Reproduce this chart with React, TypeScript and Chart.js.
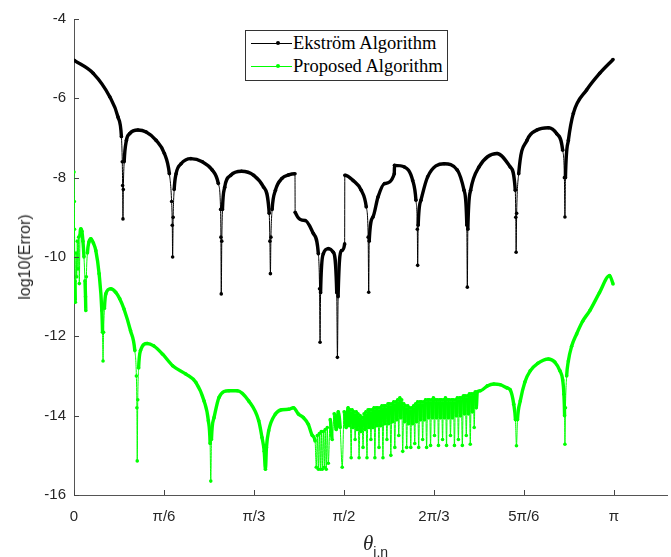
import React, { useEffect, useRef } from 'react';
import { Chart, registerables } from 'chart.js';

Chart.register(...registerables);

// ---------- data ----------
const xTickLabels = ['0', 'π/6', 'π/3', 'π/2', '2π/3', '5π/6', 'π'];
const xTickSixths = [0, 1, 2, 3, 4, 5, 6]; // tick positions in units of π/6
const yTickValues = [-16, -14, -12, -10, -8, -6, -4];

const seriesNames = ['Ekström Algorithm', 'Proposed Algorithm'];

const ekstromTheta = [
  0.000, 0.112, 0.208, 0.256, 0.276, 0.281, 0.283, 0.285, 0.287, 0.292,
  0.305, 0.324, 0.372, 0.420, 0.478, 0.526, 0.555, 0.568, 0.572, 0.574,
  0.577, 0.583, 0.594, 0.623, 0.680, 0.747, 0.805, 0.840, 0.853, 0.855,
  0.857, 0.860, 0.864, 0.877, 0.912, 0.975, 1.046, 1.104, 1.136, 1.140,
  1.143, 1.146, 1.153, 1.172, 1.210, 1.249, 1.286, 1.287, 1.345, 1.393,
  1.422, 1.429, 1.432, 1.435, 1.451, 1.480, 1.509, 1.529, 1.533, 1.537,
  1.557, 1.575, 1.576, 1.624, 1.672, 1.701, 1.712, 1.715, 1.718, 1.740,
  1.769, 1.807, 1.864, 1.865, 1.923, 1.971, 1.990, 1.998, 2.000, 2.003,
  2.019, 2.058, 2.154, 2.231, 2.270, 2.286, 2.289, 2.292, 2.308, 2.357,
  2.462, 2.539, 2.568, 2.571, 2.573, 2.576, 2.588, 2.636, 2.694, 2.761,
  2.809, 2.844, 2.854, 2.857, 2.860, 2.877, 2.906, 2.983, 3.059, 3.137,
];
const ekstromLog = [
  -5.04, -5.37, -5.96, -6.47, -6.97, -7.6, -8.2, -9.04, -8.3, -7.6,
  -7.06, -6.89, -6.80, -6.85, -7.06, -7.39, -7.90, -8.6, -9.2, -10.0,
  -9.0, -8.3, -7.90, -7.65, -7.52, -7.60, -7.81, -8.15, -8.8, -9.5,
  -10.93, -9.6, -8.8, -8.24, -7.94, -7.84, -7.94, -8.24, -8.9, -9.6,
  -10.42, -9.5, -8.8, -8.32, -8.02, -7.93, -7.90, -8.87, -9.08, -9.41,
  -9.92, -10.8, -12.15, -10.9, -9.92, -9.79, -9.88, -10.9, -12.53, -11.0,
  -9.84, -9.67, -7.94, -8.07, -8.32, -8.74, -9.5, -10.89, -9.6, -8.99,
  -8.49, -8.15, -7.90, -7.69, -7.73, -8.07, -8.57, -9.3, -10.21, -9.2,
  -8.57, -7.98, -7.65, -7.81, -8.32, -9.2, -10.76, -9.3, -8.32, -7.73,
  -7.39, -7.73, -8.32, -9.0, -9.88, -8.9, -7.90, -7.06, -6.80, -6.74,
  -6.89, -7.31, -8.0, -8.99, -8.0, -7.06, -6.38, -5.79, -5.37, -5.02,
];

const proposedTheta = [
  0.000, 0.002, 0.003, 0.006, 0.008, 0.012, 0.016, 0.019, 0.023, 0.027,
  0.031, 0.035, 0.040, 0.046, 0.052, 0.058, 0.064, 0.067, 0.069, 0.072,
  0.078, 0.087, 0.098, 0.113, 0.127, 0.146, 0.162, 0.166, 0.169, 0.172,
  0.177, 0.185, 0.214, 0.243, 0.266, 0.291, 0.329, 0.354, 0.363, 0.366,
  0.368, 0.371, 0.376, 0.387, 0.426, 0.464, 0.516, 0.574, 0.651, 0.709,
  0.757, 0.782, 0.792, 0.796, 0.800, 0.815, 0.844, 0.902, 0.950, 1.017,
  1.075, 1.094, 1.107, 1.114, 1.120, 1.133, 1.172, 1.208, 1.249, 1.277,
  1.306, 1.335, 1.364, 1.387, 1.403, 1.410, 1.416, 1.422, 1.428, 1.434,
  1.439, 1.445, 1.451, 1.457, 1.462, 1.468, 1.474, 1.480,
  1.491, 1.503, 1.514, 1.526, 1.538, 1.549, 1.561, 1.572, 1.584,
  1.595, 1.601, 1.607, 1.613, 1.618, 1.624, 1.630, 1.636, 1.642, 1.647,
  1.653, 1.659, 1.665, 1.670, 1.676, 1.682, 1.688, 1.694, 1.699, 1.705,
  1.711, 1.717, 1.723, 1.728, 1.734, 1.740, 1.746, 1.751, 1.757, 1.763,
  1.769, 1.775, 1.780, 1.786, 1.792, 1.798, 1.803, 1.809, 1.815, 1.821,
  1.827, 1.832, 1.838, 1.844, 1.850, 1.855, 1.861, 1.867, 1.873, 1.879,
  1.884, 1.890, 1.896, 1.902, 1.907, 1.913, 1.919, 1.925, 1.931, 1.936,
  1.942, 1.948, 1.954, 1.960, 1.965, 1.971, 1.977, 1.983, 1.988, 1.994,
  2.000, 2.006, 2.012, 2.017, 2.023, 2.029, 2.035, 2.040, 2.046, 2.052,
  2.058, 2.064, 2.069, 2.075, 2.081, 2.087, 2.092, 2.098, 2.104, 2.110,
  2.116, 2.121, 2.127, 2.133, 2.139, 2.145, 2.150, 2.156, 2.162, 2.168,
  2.173, 2.179, 2.185, 2.191, 2.197, 2.202, 2.208, 2.214, 2.220, 2.225,
  2.231, 2.237, 2.243, 2.249, 2.254, 2.260, 2.266, 2.272, 2.277, 2.283,
  2.289, 2.295, 2.301, 2.306, 2.312, 2.318, 2.324, 2.329, 2.335, 2.341,
  2.347,
  2.366, 2.405, 2.443, 2.480, 2.520, 2.539,
  2.559, 2.569, 2.575, 2.581, 2.597, 2.624, 2.655, 2.699, 2.761, 2.798,
  2.828, 2.844, 2.851, 2.855, 2.857, 2.860, 2.867, 2.877, 2.896, 2.925,
  2.960, 3.002, 3.058, 3.117, 3.137,
];
const proposedLog = [
  -7.86, -8.6, -9.3, -10.6, -11.14, -9.9, -10.5, -9.6, -10.3, -9.5,
  -10.67, -9.45, -9.29, -9.35, -9.6, -10.0, -10.6, -11.0, -11.35, -10.5,
  -9.9, -9.62, -9.54, -9.65, -9.84, -10.42, -11.35, -11.9, -12.62, -11.9,
  -11.3, -10.93, -10.8, -10.89, -11.05, -11.31, -11.86, -12.36, -13.0, -13.8,
  -15.14, -13.6, -12.8, -12.36, -12.18, -12.24, -12.45, -12.74, -12.95, -13.16,
  -13.63, -14.13, -14.7, -15.65, -14.6, -14.05, -13.54, -13.37, -13.37, -13.63,
  -14.13, -14.55, -14.9, -15.35, -14.8, -14.38, -13.96, -13.85, -13.84, -13.8,
  -13.96, -14.05, -14.22, -14.5, -14.64, -15.3, -14.5, -15.35, -14.45, -15.35,
  -14.4, -15.35, -14.4, -15.3, -14.35, -15.35, -14.3, -15.2,
  -14.10, -14.60, -13.95, -14.35, -13.90, -14.30, -15.30, -13.90, -14.30,
  -13.80, -14.25, -13.85, -15.06, -13.85, -14.30, -13.90, -14.60,
  -13.90, -14.35, -13.95, -15.06, -14.00, -14.40, -14.05, -14.80,
  -13.95, -14.35, -13.90, -15.06, -13.85, -14.30, -13.85, -14.60,
  -13.85, -14.30, -13.80, -15.06, -13.80, -14.25, -13.80, -14.80,
  -13.80, -14.25, -13.75, -15.06, -13.75, -14.20, -13.75, -14.60,
  -13.70, -14.20, -13.70, -15.00, -13.70, -14.15, -13.65, -14.80,
  -13.65, -14.10, -13.60, -14.50, -13.55, -14.05, -13.60, -14.90,
  -13.70, -14.15, -13.75, -14.80, -13.75, -14.20, -13.80, -14.80,
  -13.80, -14.20, -13.75, -14.70, -13.70, -14.15, -13.65, -14.80,
  -13.65, -14.10, -13.65, -14.60, -13.65, -14.10, -13.60, -14.80,
  -13.60, -14.05, -13.60, -14.75, -13.60, -14.05, -13.55, -14.50,
  -13.60, -14.05, -13.60, -14.75, -13.60, -14.05, -13.60, -14.60,
  -13.60, -14.05, -13.55, -14.75, -13.60, -14.05, -13.60, -14.50,
  -13.60, -14.05, -13.60, -14.75, -13.60, -14.00, -13.55, -14.60,
  -13.55, -14.00, -13.55, -14.75, -13.50, -13.95, -13.50, -14.50,
  -13.50, -13.95, -13.45, -14.72, -13.45, -13.90, -13.45, -14.30,
  -13.40, -13.80, -13.40,
  -13.37, -13.25, -13.2, -13.22, -13.3, -13.35,
  -13.71, -14.1, -14.76, -14.1, -13.63, -13.15, -12.87, -12.68, -12.57, -12.65,
  -12.87, -13.1, -13.46, -14.0, -14.72, -13.8, -13.0, -12.62, -12.25, -11.94,
  -11.62, -11.35, -10.9, -10.47, -10.68,
];

const X_MAX = 3.451;

const pairs = (xs: number[], ys: number[]) =>
  xs.map((x, i) => ({ x, y: ys[i] }));

// thin line for near-vertical jumps between closely spaced samples, thick band otherwise
const segWidth = (ctx: any) => {
  const a = ctx.p0;
  const b = ctx.p1;
  const dx = Math.abs(b.x - a.x);
  const dy = Math.abs(b.y - a.y);
  return dx <= 2.6 && dy > 23 ? 1 : 3.4;
};

const tickFont = { family: '"Liberation Sans", Arial, sans-serif', size: 15 };

export default function App() {
  const ref = useRef<HTMLCanvasElement | null>(null);

  useEffect(() => {
    if (!ref.current) return;
    const inwardTicks = {
      id: 'inwardTicks',
      afterDraw(chart: any) {
        const { ctx, chartArea, scales } = chart;
        ctx.save();
        ctx.strokeStyle = '#444';
        ctx.lineWidth = 1;
        scales.x.ticks.forEach((t: any) => {
          const px = Math.round(scales.x.getPixelForValue(t.value)) + 0.5;
          ctx.beginPath();
          ctx.moveTo(px, chartArea.bottom);
          ctx.lineTo(px, chartArea.bottom - 5);
          ctx.stroke();
        });
        scales.y.ticks.forEach((t: any) => {
          const py = Math.round(scales.y.getPixelForValue(t.value)) + 0.5;
          ctx.beginPath();
          ctx.moveTo(chartArea.left, py);
          ctx.lineTo(chartArea.left + 5, py);
          ctx.stroke();
        });
        ctx.restore();
      },
    };

    const chart = new Chart(ref.current, {
      type: 'line',
      data: {
        datasets: [
          {
            label: seriesNames[1],
            data: pairs(proposedTheta, proposedLog),
            borderColor: '#00ff00',
            backgroundColor: '#00ff00',
            pointBackgroundColor: '#00ff00',
            pointBorderWidth: 0,
            pointRadius: 1.8,
            borderWidth: 3.4,
            cubicInterpolationMode: 'monotone',
            segment: { borderWidth: segWidth },
          },
          {
            label: seriesNames[0],
            data: pairs(ekstromTheta, ekstromLog),
            borderColor: '#000000',
            backgroundColor: '#000000',
            pointBackgroundColor: '#000000',
            pointBorderWidth: 0,
            pointRadius: 1.8,
            borderWidth: 3.4,
            cubicInterpolationMode: 'monotone',
            segment: { borderWidth: segWidth },
          },
        ],
      } as any,
      options: {
        responsive: false,
        animation: false,
        devicePixelRatio: 1,
        layout: { padding: { top: 19, right: 0, left: 0, bottom: 0 } },
        plugins: {
          legend: { display: false },
          tooltip: { enabled: false },
        },
        scales: {
          x: {
            type: 'linear',
            min: 0,
            max: X_MAX,
            afterBuildTicks: (s: any) => {
              s.ticks = xTickSixths.map((k) => ({ value: (k * Math.PI) / 6 }));
            },
            afterFit: (s: any) => {
              s.height = 62;
            },
            ticks: {
              autoSkip: false,
              maxRotation: 0,
              padding: 13,
              color: '#262626',
              font: tickFont,
              callback: (_v: any, i: number) => xTickLabels[i],
            },
            grid: { display: false, drawTicks: false },
            border: { display: true, color: '#555', width: 1 },
          },
          y: {
            type: 'linear',
            min: -16,
            max: -4,
            afterBuildTicks: (s: any) => {
              s.ticks = yTickValues.map((v) => ({ value: v }));
            },
            afterFit: (s: any) => {
              s.width = 74;
            },
            ticks: {
              padding: 8,
              color: '#262626',
              font: tickFont,
              callback: (v: any) => String(v),
            },
            grid: { display: false, drawTicks: false },
            border: { display: true, color: '#555', width: 1 },
          },
        },
      } as any,
      plugins: [inwardTicks],
    });
    return () => chart.destroy();
  }, []);

  const legendRow = (name: string, color: string, top: number) => (
    <div
      style={{
        position: 'absolute',
        left: 5,
        top,
        height: 22,
        display: 'flex',
        alignItems: 'center',
        whiteSpace: 'nowrap',
      }}
    >
      <div style={{ position: 'relative', width: 41, height: 1, background: color }}>
        <div
          style={{
            position: 'absolute',
            left: 25,
            top: -1.5,
            width: 4,
            height: 4,
            borderRadius: '50%',
            background: color,
          }}
        />
      </div>
      <span style={{ marginLeft: 1, lineHeight: '22px', color: '#000' }}>{name}</span>
    </div>
  );

  return (
    <div
      style={{
        position: 'fixed',
        left: 0,
        top: 0,
        width: 671,
        height: 557,
        background: '#fff',
        overflow: 'hidden',
      }}
    >
      <canvas ref={ref} width={671} height={557} style={{ display: 'block' }} />
      <div
        style={{
          position: 'absolute',
          left: 245,
          top: 30,
          width: 203,
          height: 51,
          boxSizing: 'border-box',
          border: '1px solid #333',
          background: '#fff',
          fontFamily: '"Liberation Serif", "Times New Roman", serif',
          fontSize: 18.5,
        }}
      >
        {legendRow(seriesNames[0], '#000', 1)}
        {legendRow(seriesNames[1], '#00ff00', 24)}
      </div>
      <div
        style={{
          position: 'absolute',
          left: 25,
          top: 257,
          transform: 'translate(-50%, -50%) rotate(-90deg)',
          whiteSpace: 'nowrap',
          fontFamily: '"Liberation Sans", Arial, sans-serif',
          fontSize: 16,
          color: '#262626',
        }}
      >
        log10(Error)
      </div>
      <div
        style={{
          position: 'absolute',
          left: 363,
          top: 533,
          whiteSpace: 'nowrap',
          color: '#262626',
          lineHeight: '21px',
        }}
      >
        <span style={{ fontFamily: '"Liberation Serif", serif', fontStyle: 'italic', fontSize: 21 }}>θ</span>
        <span
          style={{
            fontFamily: '"Liberation Sans", Arial, sans-serif',
            fontSize: 14,
            position: 'relative',
            top: 7,
          }}
        >
          i,n
        </span>
      </div>
    </div>
  );
}
